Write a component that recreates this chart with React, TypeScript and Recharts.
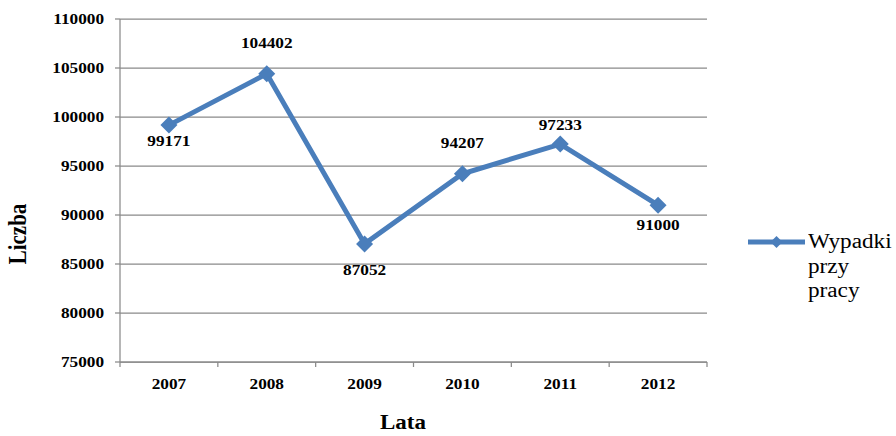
import React from 'react';
import { CartesianGrid, Legend, Line, LineChart, XAxis, YAxis } from 'recharts';

const LATA = ['2007', '2008', '2009', '2010', '2011', '2012'];
const WYPADKI = [99171, 104402, 87052, 94207, 97233, 91000];
const Y_TICKS = [75000, 80000, 85000, 90000, 95000, 100000, 105000, 110000];
const SERIA = 'Wypadki przy pracy';

// etykiety wartości: przesunięcie środka tekstu względem punktu (ujemne = nad)
const LABEL_DY = [16, -31, 26, -31, -19, 20];

const W = 896;
const H = 436;
const MARGIN = { top: 19, right: 189, left: 0, bottom: 44 };
const Y_AXIS_W = 120;
const X_AXIS_H = 30;
const BAND = (W - MARGIN.left - MARGIN.right - Y_AXIS_W) / LATA.length;

const BLUE = '#4A7EBB';
const GRID = '#8a8a8a';
const SERIF = '"Liberation Serif", "Times New Roman", serif';
// tekst na wykresie jest nieco rozciągnięty w poziomie
const STRETCH = 1.15;

const tickFont: React.CSSProperties = {
  fontFamily: SERIF,
  fontSize: 15,
  fontWeight: 700,
  fill: '#000',
};

const data = LATA.map((rok, i) => ({ rok, wypadki: WYPADKI[i] }));

function WideText({
  x,
  y,
  anchor,
  children,
  style = tickFont,
}: {
  x: number;
  y: number;
  anchor: 'start' | 'middle' | 'end';
  children: React.ReactNode;
  style?: React.CSSProperties;
}) {
  return (
    <text
      transform={`translate(${x},${y}) scale(${STRETCH},1)`}
      textAnchor={anchor}
      dominantBaseline="central"
      style={style}
    >
      {children}
    </text>
  );
}

function Diamond({ cx, cy, r }: { cx?: number; cy?: number; r: number }) {
  if (cx == null || cy == null) return null;
  return (
    <polygon
      points={`${cx},${cy - r} ${cx + r},${cy} ${cx},${cy + r} ${cx - r},${cy}`}
      fill={BLUE}
    />
  );
}

function XTick({ x, y, payload, index }: any) {
  const left = x - BAND / 2;
  const right = x + BAND / 2;
  return (
    <g>
      <line x1={left} x2={left} y1={y} y2={y + 5} stroke={GRID} strokeWidth={1.25} />
      {index === LATA.length - 1 && (
        <line x1={right} x2={right} y1={y} y2={y + 5} stroke={GRID} strokeWidth={1.25} />
      )}
      <WideText x={x} y={y + 22} anchor="middle">
        {payload.value}
      </WideText>
    </g>
  );
}

function YTick({ x, y, payload }: any) {
  return (
    <WideText x={x - 1} y={y} anchor="end">
      {payload.value}
    </WideText>
  );
}

function ValueLabel({ x, y, value, index }: any) {
  return (
    <WideText x={x} y={y + LABEL_DY[index ?? 0]} anchor="middle">
      {value}
    </WideText>
  );
}

function LegendBox() {
  return (
    <div style={{ display: 'flex', alignItems: 'flex-start' }}>
      <svg width={57} height={26} style={{ marginRight: 3, flex: 'none' }}>
        <line x1={0} x2={57} y1={13} y2={13} stroke={BLUE} strokeWidth={5} />
        <Diamond cx={28.5} cy={13} r={6} />
      </svg>
      <div
        style={{
          fontFamily: SERIF,
          fontSize: 20,
          lineHeight: '24.5px',
          color: '#000',
          width: 76,
          transform: 'scaleX(1.16)',
          transformOrigin: 'left top',
        }}
      >
        {SERIA}
      </div>
    </div>
  );
}

export default function App() {
  return (
    <div style={{ position: 'absolute', left: 0, top: 0, width: W, height: H, background: '#fff' }}>
      <LineChart width={W} height={H} data={data} margin={MARGIN}>
        <CartesianGrid vertical={false} stroke={GRID} strokeWidth={1.25} />
        <XAxis
          dataKey="rok"
          scale="band"
          height={X_AXIS_H}
          tickSize={0}
          tickMargin={0}
          tickLine={false}
          axisLine={{ stroke: GRID, strokeWidth: 1.25 }}
          tick={<XTick />}
          interval={0}
          label={{
            content: () => (
              <WideText x={403} y={423} anchor="middle" style={{ ...tickFont, fontSize: 20 }}>
                Lata
              </WideText>
            ),
          }}
        />
        <YAxis
          width={Y_AXIS_W}
          domain={[75000, 110000]}
          ticks={Y_TICKS}
          interval={0}
          tickSize={5}
          tickMargin={10}
          axisLine={{ stroke: GRID, strokeWidth: 1.25 }}
          tickLine={{ stroke: GRID, strokeWidth: 1.25 }}
          tick={<YTick />}
          label={{
            content: () => (
              <text
                transform={`translate(18,234) scale(${STRETCH},1) rotate(-90)`}
                textAnchor="middle"
                dominantBaseline="central"
                style={{ ...tickFont, fontSize: 21 }}
              >
                Liczba
              </text>
            ),
          }}
        />
        <Legend
          layout="vertical"
          align="center"
          verticalAlign="middle"
          wrapperStyle={{ left: 748, top: 229, width: 148 }}
          content={() => <LegendBox />}
        />
        <Line
          type="linear"
          dataKey="wypadki"
          name={SERIA}
          stroke={BLUE}
          strokeWidth={5}
          dot={(p: any) => <Diamond key={p.index} cx={p.cx} cy={p.cy} r={8.5} />}
          activeDot={false}
          label={<ValueLabel />}
          isAnimationActive={false}
        />
      </LineChart>
    </div>
  );
}
